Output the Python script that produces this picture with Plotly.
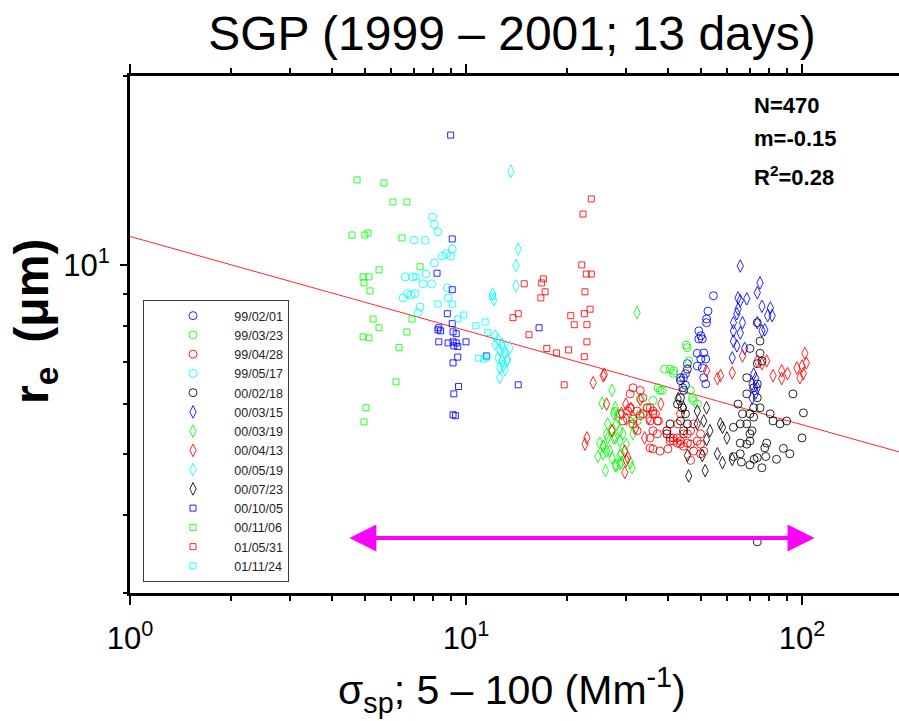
import math
import plotly.graph_objects as go

# ---------------- data ----------------
x_990201 = [54.5, 52.5, 52, 52, 49.3, 50, 49.3, 50.5, 48.8, 51, 50, 51.7, 48.8, 50.5, 51, 51.7, 45, 43.5, 45, 44.2, 45.6, 44.4]
y_990201 = [8.93, 8.44, 8.2, 8.09, 7.85, 7.71, 7.62, 7.62, 7.23, 7.24, 7.08, 7.08, 6.90, 6.85, 6.61, 6.46, 6.71, 6.61, 6.43, 6.37, 6.96, 6.61]

x_990323 = [45.5, 46, 39, 40.5, 41.5, 37.3, 37.8, 46.5, 47.2, 48.8, 45.3, 41.4, 38.4, 47.5, 33, 34.6, 32.3, 33, 27.8, 36]
y_990323 = [7.38, 7.03, 6.82, 6.82, 6.78, 6.37, 6.31, 6.31, 6.14, 6.0, 7.45, 6.72, 6.31, 6.08, 6.12, 5.92, 5.64, 5.79, 5.84, 6.08]

x_990428 = [30.8, 30.3, 31.4, 33.0, 34.6, 33.6, 36.0, 35.3, 36.6, 37.4, 37.1, 39.6, 40.5, 41.4, 42.6, 43.5, 44.4, 45.6,
            46.6, 47.6, 48.8, 49.9, 35.3, 37.8, 39.9, 32.3, 29.3, 28.7, 31.4, 33.0, 30.8, 32.3, 31.4, 33.6, 35.3, 36.0,
            37.1, 36.0, 35.3, 39.6, 40.5, 41.4, 42.6, 43.5, 44.4, 45.6, 46.6, 47.6, 49.9, 51.0, 49.9, 36.0, 46.6, 42.6, 43.5]
y_990428 = [6.23, 5.85, 5.68, 5.75, 5.92, 6.14, 5.85, 5.64, 5.79, 5.64, 5.38, 5.44, 5.24, 5.30, 5.20, 5.24, 5.14, 5.38,
            5.18, 5.05, 5.24, 5.38, 5.11, 5.05, 5.09, 5.44, 5.64, 5.79, 6.37, 6.31, 5.92, 5.85, 5.58, 5.79, 5.92, 5.79,
            5.64, 5.44, 5.30, 5.44, 5.30, 5.24, 5.30, 5.18, 5.38, 5.20, 5.44, 5.58, 5.18, 5.05, 5.00, 5.09, 4.88, 5.58, 5.79]

x_990517 = [7.95, 8.05, 8.25, 7.0, 7.55, 8.5, 8.75, 9.0, 9.1, 8.05, 7.6, 6.6, 6.95, 6.7, 7.05, 6.85, 6.5, 7.3, 7.45, 7.9, 8.8, 8.85, 7.2]
y_990517 = [11.92, 11.6, 11.29, 10.95, 10.95, 10.33, 10.41, 10.33, 10.6, 10.07, 9.67, 9.57, 9.57, 9.0, 9.0, 8.95, 8.86, 8.57, 9.33, 9.33, 9.19, 8.86, 8.39]

x_000218 = [45.6, 43.5, 44.4, 43.5, 42.6, 44, 45, 43.5, 45.6, 44.4, 40.5, 39.6, 73.6, 75, 70, 75, 76, 73.6, 68.5, 71.8,
            73.6, 68.5, 73.6, 64.5, 71.8, 75, 66.5, 70, 71.8, 65.5, 68.5, 71, 70, 65.5, 68.5, 70, 78.5, 77.5, 65.5, 73.6,
            80.4, 82, 86, 90, 94, 101, 62.5, 62.5, 66, 72, 78, 84, 92, 70, 76, 88, 100, 73.6]
y_000218 = [6.82, 6.54, 6.31, 6.14, 6.0, 5.92, 5.79, 5.64, 5.58, 5.44, 5.58, 5.38, 8.09, 7.56, 7.36, 7.23, 7.03, 6.96, 6.61, 6.37,
            6.46, 6.23, 6.14, 6.0, 5.92, 5.92, 5.79, 5.79, 5.72, 5.58, 5.58, 5.44, 5.38, 5.20, 5.18, 5.24, 5.20, 5.11, 5.0, 4.93,
            5.79, 5.64, 5.58, 5.64, 6.23, 5.81, 5.51, 4.95, 4.85, 4.9, 4.95, 4.9, 5.0, 4.8, 4.75, 5.1, 5.3, 3.62]

x_000315 = [65.5, 75, 73.6, 64.5, 65.5, 68.5, 64.5, 64, 76, 80.5, 62.5, 66.5, 79, 81.5, 62.5, 65.5, 73.6, 76, 77.5, 62.5,
            64, 67.5, 62, 71.8, 72.8, 71, 73.6, 72.8, 71]
y_000315 = [9.96, 9.36, 9.03, 8.86, 8.77, 8.83, 8.50, 8.36, 8.59, 8.54, 8.09, 8.09, 8.3, 8.3, 7.85, 7.79, 8.09, 7.85, 7.88, 7.56,
            7.43, 7.36, 7.11, 6.70, 6.59, 6.46, 6.37, 6.25, 6.14]

x_000319 = [27.2, 25.4, 27.8, 27.5, 28.3, 26.4, 28, 28.7, 26.2, 27.5, 28.7, 29.3, 25.6, 26.8, 25.6, 27.2, 29, 28.7, 27.8,
            26.4, 25.6, 26.2, 27.2, 27.8, 28.7, 29, 28, 30.8, 31.2, 30, 31.4, 32.3, 25.0, 24.7, 26.0, 31.0]
y_000319 = [6.31, 6.02, 5.92, 5.79, 5.72, 5.58, 5.58, 5.44, 5.38, 5.30, 5.24, 5.38, 5.14, 5.05, 5.0, 4.93, 5.0, 4.82, 4.79,
            5.30, 5.14, 5.05, 5.44, 5.30, 4.97, 4.84, 4.79, 4.84, 4.75, 5.18, 5.38, 8.39, 5.2, 4.95, 4.7, 5.6]

x_000413 = [23.9, 25.8, 26.2, 29.9, 30, 27.2, 22.9, 22.6, 29.7, 30, 29.7, 30.3, 52, 56, 57.2, 62, 66.5, 73.6, 76, 78.5,
            82, 87, 90.6, 96.6, 100, 102, 103, 98.6, 100.9, 87, 25.6, 31, 33, 35, 38, 32, 29, 34]
y_000413 = [6.49, 6.69, 6.0, 6.0, 5.68, 5.44, 5.30, 5.18, 5.05, 4.88, 4.67, 4.93, 6.78, 6.59, 6.66, 6.73, 7.16, 7.03, 6.96, 7.03,
            6.66, 6.78, 6.71, 6.85, 6.90, 7.23, 6.98, 6.61, 6.71, 6.59, 6.66, 5.9, 6.1, 5.7, 6.0, 5.5, 5.8, 5.3]

x_000519 = [13.6, 14.3, 14.1, 12.0, 12.1, 14.1, 12.2, 12.45, 12.8, 12.9, 12.6, 13.07, 13.5, 12.45, 12.8, 13.25, 12.9, 13.3,
            12.6, 13.07, 12.6, 12.2]
y_000519 = [14.1, 10.6, 9.98, 8.99, 8.8, 9.26, 7.71, 7.6, 7.48, 7.38, 7.30, 7.24, 7.38, 7.11, 7.03, 7.03, 6.90, 7.08,
            6.85, 6.81, 6.61, 7.48]

x_000723 = [42.8, 44.4, 48.8, 52, 51, 48.8, 53.2, 52, 57.2, 58, 59.8, 58, 50.5, 45.6, 51.5, 46, 56, 62]
y_000723 = [6.12, 5.92, 5.85, 5.92, 5.64, 5.58, 5.44, 5.27, 5.58, 5.51, 5.30, 4.84, 4.97, 4.97, 4.70, 4.61, 5.0, 4.9]

x_001005 = [9.0, 9.1, 8.2, 9.1, 8.8, 8.3, 8.25, 8.4, 9.1, 9.15, 9.35, 8.3, 8.85, 9.15, 9.35, 9.2, 10.0, 9.45, 11.5, 9.45,
            9.15, 16.5, 14.3, 9.5, 9.2, 9.15, 9.3]
y_001005 = [16.1, 11.0, 9.7, 9.13, 8.36, 7.94, 7.88, 7.85, 8.06, 7.82, 7.77, 7.54, 7.51, 7.54, 7.51, 7.43, 7.54, 7.41, 7.16, 7.13,
            6.98, 7.94, 6.44, 6.40, 6.23, 5.77, 5.75]

x_001106 = [4.74, 5.70, 6.06, 6.67, 4.58, 5.00, 5.11, 6.45, 5.51, 7.30, 4.94, 5.14, 4.97, 5.18, 5.29, 5.51, 4.94, 5.14,
            6.91, 6.67, 6.32, 6.19, 5.04, 4.97]
y_001106 = [13.66, 13.51, 12.60, 12.60, 11.16, 11.16, 11.24, 11.04, 9.82, 9.93, 9.57, 9.57, 9.36, 9.09, 8.20, 7.94, 7.68, 7.65,
            8.20, 7.82, 7.38, 6.51, 5.92, 5.62]

x_010531 = [23.6, 22.3, 22.1, 22.8, 23.6, 17.0, 14.9, 16.8, 17.2, 16.7, 22.6, 23.4, 22.5, 20.5, 21, 22.9, 13.8, 14.3, 15.4,
            22.9, 17.4, 18.6, 20.2, 22.5, 19.6]
y_010531 = [12.74, 12.05, 10.0, 9.67, 9.67, 9.5, 9.33, 9.36, 9.06, 8.86, 9.06, 8.5, 8.36, 8.3, 8.03, 8.03, 8.24, 8.36, 7.74,
            7.54, 7.36, 7.24, 7.32, 7.14, 6.44]

x_011124 = [7.1, 8.25, 9.1, 9.45, 9.85, 10.7, 11.4, 11.6, 10.9, 11.3, 11.55, 12.0]
y_011124 = [9.57, 8.66, 8.66, 8.2, 8.32, 8.0, 8.11, 7.8, 7.1, 7.08, 7.13, 8.9]

# regression (power law) reported on the chart
fit_n = 470
fit_m = -0.15
fit_r2 = 0.28
fit_a = 11.1            # r_e at sigma_sp = 1
fit_x = [1, 200]

arrow_x = [4.45, 109]   # magenta double arrow ends (5 - 100 range)
arrow_y = 3.67

series = [
    ("99/02/01", x_990201, y_990201, "circle-open", "rgb(0,0,255)"),
    ("99/03/23", x_990323, y_990323, "circle-open", "rgb(0,255,0)"),
    ("99/04/28", x_990428, y_990428, "circle-open", "rgb(255,0,0)"),
    ("99/05/17", x_990517, y_990517, "circle-open", "rgb(0,255,255)"),
    ("00/02/18", x_000218, y_000218, "circle-open", "rgb(0,0,0)"),
    ("00/03/15", x_000315, y_000315, "diamond-tall-open", "rgb(0,0,255)"),
    ("00/03/19", x_000319, y_000319, "diamond-tall-open", "rgb(0,255,0)"),
    ("00/04/13", x_000413, y_000413, "diamond-tall-open", "rgb(255,0,0)"),
    ("00/05/19", x_000519, y_000519, "diamond-tall-open", "rgb(0,255,255)"),
    ("00/07/23", x_000723, y_000723, "diamond-tall-open", "rgb(0,0,0)"),
    ("00/10/05", x_001005, y_001005, "square-open", "rgb(0,0,255)"),
    ("00/11/06", x_001106, y_001106, "square-open", "rgb(0,255,0)"),
    ("01/05/31", x_010531, y_010531, "square-open", "rgb(255,0,0)"),
    ("01/11/24", x_011124, y_011124, "square-open", "rgb(0,255,255)"),
]

FONT = "Arial, Liberation Sans, sans-serif"
W, H = 899, 721
L, R, T = 130, 0, 76
B = H - 593
PW, PH = W - L - R, H - T - B


def px(xs):
    """screen x pixel -> paper fraction"""
    return (xs - L) / PW


def py(ys):
    """screen y pixel -> paper fraction"""
    return 1 - (ys - T) / PH


fig = go.Figure()

fit_y = [fit_a * xv ** fit_m for xv in fit_x]
fig.add_trace(go.Scatter(x=fit_x, y=fit_y, mode="lines", showlegend=False,
                         line=dict(color="rgb(255,40,40)", width=1), hoverinfo="skip"))

for name, xs, ys, sym, col in series:
    size = {"circle-open": 8, "diamond-tall-open": 9, "square-open": 6}[sym]
    fig.add_trace(go.Scatter(x=xs, y=ys, mode="markers", name="\u2003\u2002\u2009" + name,
                             marker=dict(symbol=sym, size=size, color=col, opacity=0.85,
                                         line=dict(width=1, color=col))))

fig.add_annotation(x=math.log10(arrow_x[1]), y=math.log10(arrow_y), ax=math.log10(arrow_x[0]), ay=math.log10(arrow_y),
                   xref="x", yref="y", axref="x", ayref="y", text="", showarrow=True,
                   arrowhead=2, arrowside="end+start", arrowsize=1.35, arrowwidth=4, arrowcolor="rgb(255,0,255)")

for t, yp in zip([f"N={fit_n}", f"m={fit_m}", f"R<sup>2</sup>={fit_r2}"], [105, 139, 176]):
    fig.add_annotation(x=px(752), y=py(yp), xref="paper", yref="paper", text=f"<b>{t}</b>",
                       showarrow=False, xanchor="left", yanchor="middle",
                       font=dict(family=FONT, size=22, color="black"))

# axis titles
fig.add_annotation(x=px(512), y=py(690), xref="paper", yref="paper",
                   text="\u03c3<sub>sp</sub>; 5 \u2013 100 (Mm<sup>-1</sup>)", showarrow=False,
                   xanchor="center", yanchor="middle", font=dict(family=FONT, size=41, color="black"))
fig.add_annotation(x=px(35), y=py(322), xref="paper", yref="paper", textangle=-90,
                   text="<b>r<sub>e</sub>\u2002(\u03bcm)</b>", showarrow=False,
                   xanchor="center", yanchor="middle", font=dict(family=FONT, size=48, color="black"))

fig.update_layout(
    width=W, height=H,
    margin=dict(l=L, r=R, t=T, b=B, autoexpand=False),
    paper_bgcolor="white", plot_bgcolor="white",
    font=dict(family=FONT, color="black"),
    title=dict(text="SGP (1999 \u2013 2001; 13 days)", x=512 / W, xref="container", xanchor="center",
               y=1 - 33 / H, yref="container", yanchor="middle",
               font=dict(family=FONT, size=48, color="black")),
    showlegend=True,
    legend=dict(x=px(143), y=py(300), xanchor="left", yanchor="top", indentation=29,
                bgcolor="white", bordercolor="rgb(60,60,60)", borderwidth=1,
                font=dict(family=FONT, size=12.5, color="rgb(30,30,30)"), tracegroupgap=0),
)

fig.update_xaxes(type="log", range=[0, PW / 336], showgrid=False, zeroline=False, automargin=False,
                 showline=True, linewidth=3, linecolor="black", mirror="ticks",
                 ticks="outside", ticklen=9, tickwidth=2, tickcolor="black", ticklabelstandoff=7,
                 tickvals=[1, 10, 100], ticktext=["10<sup>0</sup>", "10<sup>1</sup>", "10<sup>2</sup>"],
                 tickfont=dict(family=FONT, size=31, color="black"),
                 minor=dict(ticks="outside", ticklen=5, tickwidth=2, tickcolor="black",
                            tickvals=[2, 3, 4, 5, 6, 7, 8, 9, 20, 30, 40, 50, 60, 70, 80, 90, 200]))
fig.update_yaxes(type="log", range=[math.log10(3), math.log10(20)], showgrid=False, zeroline=False, automargin=False,
                 showline=True, linewidth=3, linecolor="black", mirror=False,
                 ticks="outside", ticklen=7, tickwidth=2, tickcolor="black", ticklabelstandoff=4,
                 tickvals=[10], ticktext=["10<sup>1</sup>"],
                 tickfont=dict(family=FONT, size=31, color="black"),
                 minor=dict(ticks="outside", ticklen=4, tickwidth=2, tickcolor="black",
                            tickvals=[3, 4, 5, 6, 7, 8, 9, 20]))

fig.write_html("out.html", config={"displayModeBar": False},
               post_script="document.body.style.margin='0';document.body.style.overflow='hidden';")
